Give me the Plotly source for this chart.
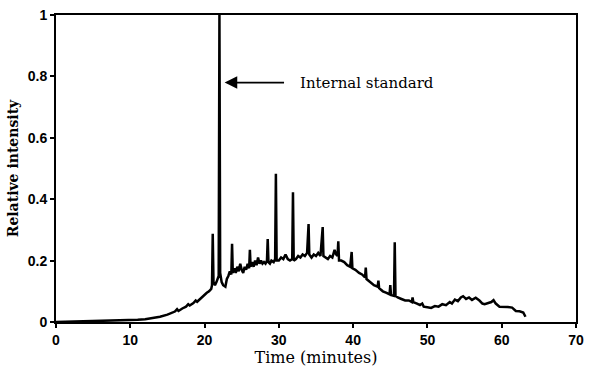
import plotly.graph_objects as go

# Chromatogram trace: time (minutes), relative intensity
time_min = [
    0, 2, 4, 6, 8, 10, 11, 12, 13, 14, 15, 15.5, 16, 16.3, 16.5, 17, 17.5, 17.8, 18, 18.5,
    18.8, 19, 19.5, 20, 20.3, 20.6, 20.9, 21.0, 21.1, 21.2, 21.4, 21.6, 21.9, 22.0, 22.1, 22.3,
    22.5, 22.8, 23.0, 23.2, 23.4, 23.6, 23.7, 23.8, 24.0, 24.2, 24.4, 24.6, 24.8, 25.0, 25.2,
    25.4, 25.6, 25.8, 26.0, 26.1, 26.2, 26.4, 26.6, 26.8, 27.0, 27.2, 27.4, 27.6, 27.8, 28.0,
    28.2, 28.4, 28.5, 28.6, 28.8, 29.0, 29.3, 29.5, 29.6, 29.7, 30.0, 30.3, 30.6, 30.9, 31.2,
    31.5, 31.8, 31.9, 32.0, 32.3, 32.6, 32.9, 33.2, 33.5, 33.8, 34.0, 34.1, 34.4, 34.7, 35.0,
    35.3, 35.6, 35.9, 36.0, 36.3, 36.6, 36.9, 37.2, 37.5, 37.7, 37.9, 38.0, 38.1, 38.4, 38.8,
    39.2, 39.6, 39.8, 39.9, 40.3, 40.8, 41.2, 41.6, 41.7, 41.8, 42.3, 42.8, 43.3, 43.4, 43.5,
    44.0, 44.5, 44.9, 45.0, 45.1, 45.5, 45.6, 45.7, 46.0, 46.5, 47.0, 47.5, 47.9, 48.0, 48.1,
    48.6, 49.0, 49.3, 49.5, 50.0, 50.5, 51.0, 51.5, 52.0, 52.5, 53.0, 53.3, 53.7, 54.1, 54.5,
    54.8, 55.2, 55.6, 56.0, 56.5, 57.0, 57.4, 57.7, 58.2, 58.6, 58.9, 59.2, 59.7, 60.2, 60.8,
    61.4, 61.9, 62.4, 62.9, 63.2,
]
intensity = [
    0.0, 0.001, 0.002, 0.003, 0.004, 0.006, 0.007, 0.009, 0.012, 0.017, 0.024, 0.028, 0.034, 0.042, 0.036, 0.044, 0.05, 0.058, 0.054, 0.062,
    0.07, 0.066, 0.078, 0.088, 0.095, 0.1, 0.108, 0.12, 0.287, 0.13, 0.12, 0.13, 0.15, 1.0, 0.16, 0.13,
    0.12, 0.115, 0.14, 0.15, 0.165, 0.155, 0.255, 0.16, 0.175, 0.16, 0.18, 0.165, 0.19, 0.17, 0.16,
    0.18, 0.17, 0.19, 0.175, 0.235, 0.18, 0.195, 0.18, 0.2, 0.185, 0.21, 0.19, 0.2, 0.19, 0.195,
    0.19, 0.2, 0.27, 0.195, 0.19, 0.2, 0.195, 0.205, 0.483, 0.2, 0.2, 0.21, 0.205, 0.22, 0.205,
    0.2, 0.205, 0.423, 0.2, 0.205, 0.215, 0.21, 0.22, 0.215, 0.225, 0.319, 0.22, 0.21, 0.22, 0.215,
    0.225, 0.215, 0.309, 0.215, 0.21, 0.205, 0.215, 0.21, 0.235, 0.22, 0.215, 0.263, 0.2, 0.2, 0.195,
    0.185, 0.18, 0.228, 0.175, 0.17, 0.16, 0.155, 0.145, 0.177, 0.14, 0.13, 0.12, 0.115, 0.135, 0.11,
    0.1, 0.095, 0.09, 0.12, 0.088, 0.085, 0.26, 0.085, 0.08, 0.075, 0.07, 0.07, 0.065, 0.08, 0.065,
    0.06, 0.055, 0.06, 0.05, 0.048, 0.046, 0.052, 0.05, 0.058, 0.055, 0.065, 0.06, 0.073, 0.068, 0.08,
    0.084, 0.075, 0.08, 0.072, 0.079, 0.07, 0.06, 0.058, 0.062, 0.065, 0.071, 0.06, 0.05, 0.05, 0.049,
    0.047, 0.036, 0.035, 0.031, 0.017,
]

x_ticks = [0, 10, 20, 30, 40, 50, 60, 70]
y_ticks = [0, 0.2, 0.4, 0.6, 0.8, 1]
y_tick_labels = ["0", "0.2", "0.4", "0.6", "0.8", "1"]

fig = go.Figure()
fig.add_trace(go.Scatter(
    x=time_min, y=intensity, mode="lines",
    line=dict(color="black", width=2.5),
    showlegend=False, hoverinfo="skip",
))

# arrow pointing at the internal standard peak
fig.add_annotation(
    x=22.7, y=0.78, ax=30.9, ay=0.78, xref="x", yref="y", axref="x", ayref="y",
    text="", showarrow=True, arrowhead=2, arrowsize=1.4, arrowwidth=1.8, arrowcolor="black",
)
fig.add_annotation(
    x=32.6, y=0.78, xref="x", yref="y", text="Internal standard", showarrow=False,
    xanchor="left", yanchor="middle",
    font=dict(family="DejaVu Serif", size=15, color="black"),
)

axis_common = dict(
    showline=True, linecolor="black", linewidth=2, mirror=True,
    showgrid=False, zeroline=False,
    ticks="outside", ticklen=4, tickwidth=1.5, tickcolor="black",
    tickfont=dict(family="Liberation Sans", size=14, color="black", weight="bold"),
)

fig.update_layout(
    width=591, height=369,
    margin=dict(l=56, r=7, t=15, b=43),
    paper_bgcolor="white", plot_bgcolor="white",
    xaxis=dict(
        range=[0, 70], tickvals=x_ticks, ticktext=[str(v) for v in x_ticks],
        title=dict(text="Time (minutes)", standoff=3,
                   font=dict(family="DejaVu Serif", size=16, color="black")),
        **axis_common,
    ),
    yaxis=dict(
        range=[0, 1], tickvals=y_ticks, ticktext=y_tick_labels,
        title=dict(text="Relative intensity", standoff=6,
                   font=dict(family="DejaVu Serif", size=14, color="black", weight="bold")),
        **axis_common,
    ),
)

fig.write_html("out.html")
